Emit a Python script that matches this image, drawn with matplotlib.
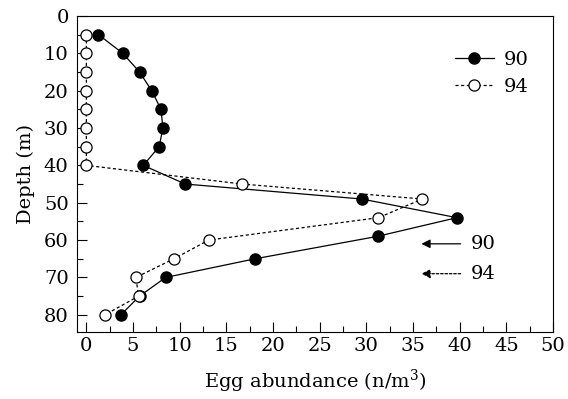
import matplotlib
matplotlib.use("Agg")
from matplotlib import pyplot as plt
from matplotlib.ticker import MultipleLocator

# egg abundance profiles (n/m^3) by depth (m)
depth_90 = [5, 10, 15, 20, 25, 30, 35, 40, 45, 49, 54, 59, 65, 70, 75, 80]
eggs_90 = [1.3, 3.9, 5.7, 7.0, 8.0, 8.2, 7.8, 6.1, 10.6, 29.5, 39.7, 31.2,
           18.1, 8.5, 5.7, 3.7]
depth_94 = [5, 10, 15, 20, 25, 30, 35, 40, 45, 49, 54, 60, 65, 70, 75, 80]
eggs_94 = [0, 0, 0, 0, 0, 0, 0, 0, 16.7, 36.0, 31.3, 13.1, 9.4, 5.3, 5.6,
           2.0]
x_ticks = list(range(0, 51, 5))
y_ticks = list(range(0, 81, 10))

plt.rcParams['font.family'] = 'DejaVu Serif'
plt.rcParams['mathtext.fontset'] = 'dejavuserif'
FS = 14

fig = plt.figure(figsize=(5.68, 3.99), dpi=100)
ax = fig.add_axes([0.1356, 0.168, 0.838, 0.792])

ax.plot(eggs_90, depth_90, '-', color='black', lw=0.9, marker='o',
        markersize=8, markerfacecolor='black', markeredgecolor='black',
        label='90')
ax.plot(eggs_94, depth_94, color='black', lw=0.9, ls=(0, (2.5, 2)),
        marker='o', markersize=8, markerfacecolor='white',
        markeredgecolor='black', markeredgewidth=0.9, label='94')

# arrows at the right marking the two series
ax.annotate('', xy=(35.6, 61), xytext=(40.4, 61),
            arrowprops=dict(arrowstyle='-|>', color='black', lw=0.9,
                            mutation_scale=13))
ax.text(41.2, 61, '90', fontsize=FS, va='center', ha='left')
ax.annotate('', xy=(35.6, 69), xytext=(40.4, 69),
            arrowprops=dict(arrowstyle='-|>', color='black', lw=0.9,
                            ls=(0, (2, 1.5)), mutation_scale=13))
ax.text(41.2, 69, '94', fontsize=FS, va='center', ha='left')

ax.set_xlim(-1, 50)
ax.set_ylim(84.6, 0)
ax.set_xticks(x_ticks)
ax.set_yticks(y_ticks)
ax.xaxis.set_minor_locator(MultipleLocator(2.5))
ax.yaxis.set_minor_locator(MultipleLocator(5))
ax.tick_params(which='both', direction='in', top=False, right=False,
               labelsize=FS, width=0.8)
ax.tick_params(which='major', length=7)
ax.tick_params(which='minor', length=4)
ax.tick_params(axis='y', pad=6)
for s in ax.spines.values():
    s.set_linewidth(0.8)

ax.set_xlabel('Egg abundance (n/m$^3$)', fontsize=FS, labelpad=9)
ax.set_ylabel('Depth (m)', fontsize=FS, labelpad=6)

ax.legend(loc='upper right', bbox_to_anchor=(0.985, 0.945), frameon=False,
          fontsize=FS, handlelength=2.0, handletextpad=0.5,
          labelspacing=0.45)

fig.savefig('out.png', dpi=100)
